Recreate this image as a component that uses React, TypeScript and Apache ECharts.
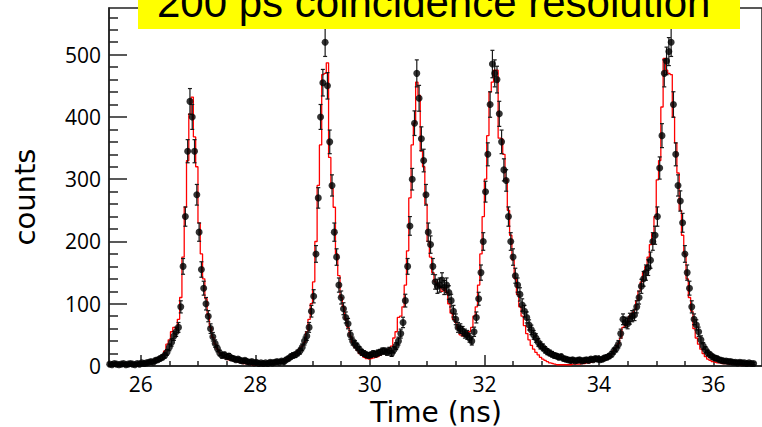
import React, { useEffect, useRef } from "react";
import * as echarts from "echarts";

// Histogram binning (bin centres start at BIN_START, spaced BIN_WIDTH ns)
const BIN_START = 25.46;
const BIN_WIDTH = 0.04;

// Measured counts per bin (black points)
const counts = [
  3, 2, 4, 3, 2, 3, 4, 2, 3, 4,
  3, 2, 4, 3, 5, 4, 5, 6, 7, 6,
  9, 10, 12, 14, 17, 22, 30, 38, 48, 55,
  62, 95, 160, 240, 345, 425, 400, 345, 275, 215,
  155, 125, 100, 80, 60, 47, 36, 28, 21, 17,
  18, 15, 16, 13, 12, 10, 11, 9, 8, 9,
  7, 6, 7, 5, 6, 4, 5, 4, 5, 4,
  6, 5, 6, 7, 6, 8, 7, 10, 12, 15,
  17, 18, 21, 24, 30, 40, 48, 62, 88, 112,
  180, 270, 400, 455, 520, 450, 360, 290, 215, 175,
  130, 110, 92, 78, 68, 50, 40, 35, 31, 26,
  22, 20, 18, 17, 18, 20, 19, 21, 22, 24,
  24, 22, 25, 20, 26, 32, 40, 52, 70, 105,
  160, 225, 300, 390, 470, 430, 365, 330, 275, 215,
  195, 160, 135, 128, 130, 138, 126, 130, 118, 105,
  88, 75, 62, 60, 56, 52, 50, 45, 40, 55,
  78, 108, 150, 200, 280, 340, 420, 485, 470, 460,
  405, 360, 315, 298, 240, 200, 175, 145, 130, 115,
  98, 88, 78, 66, 58, 50, 45, 38, 33, 30,
  26, 23, 21, 19, 17, 16, 14, 15, 12, 11,
  10, 9, 10, 8, 9, 10, 8, 9, 10, 9,
  11, 10, 12, 11, 10, 11, 13, 14, 16, 19,
  24, 28, 35, 52, 75, 70, 68, 76, 80, 82,
  95, 110, 128, 140, 150, 158, 170, 200, 210, 240,
  318, 370, 470, 490, 505, 520, 420, 340, 290, 265,
  230, 180, 150, 125, 95, 75, 66, 55, 42, 32,
  26, 21, 18, 15, 13, 12, 10, 9, 8, 8,
  7, 7, 6, 6, 5, 6, 5, 5, 4, 5,
  4, 4,
];

// Model histogram per bin (red line)
const model = [
  3, 3, 3, 3, 3, 3, 3, 3, 3, 3,
  3, 3, 4, 4, 4, 5, 5, 6, 7, 8,
  10, 12, 15, 18, 24, 35, 42, 55, 62, 60,
  75, 110, 175, 255, 330, 405, 432, 368, 320, 230,
  180, 140, 108, 82, 62, 46, 35, 27, 21, 17,
  14, 12, 10, 9, 8, 7, 6, 5, 4, 4,
  3, 3, 2, 2, 2, 2, 2, 2, 3, 3,
  3, 4, 4, 5, 5, 6, 8, 10, 12, 14,
  18, 20, 24, 28, 32, 38, 55, 75, 100, 135,
  200, 290, 355, 468, 470, 487, 335, 285, 255, 180,
  145, 110, 95, 75, 62, 48, 38, 30, 25, 20,
  17, 14, 12, 11, 12, 13, 14, 15, 17, 20,
  22, 25, 28, 32, 45, 55, 78, 80, 95, 130,
  185, 270, 355, 390, 456, 435, 345, 320, 260, 200,
  175, 150, 135, 130, 128, 120, 125, 118, 100, 85,
  75, 70, 60, 50, 48, 52, 48, 55, 62, 80,
  95, 130, 180, 240, 300, 370, 440, 456, 475, 475,
  366, 365, 340, 300, 250, 210, 170, 140, 115, 95,
  80, 65, 52, 42, 33, 27, 22, 18, 14, 11,
  9, 7, 5, 4, 3, 2, 2, 2, 2, 2,
  2, 2, 3, 3, 3, 3, 4, 4, 5, 5,
  6, 7, 8, 9, 10, 11, 12, 14, 16, 20,
  25, 30, 36, 45, 62, 65, 70, 80, 85, 90,
  105, 120, 135, 150, 160, 175, 195, 213, 240, 299,
  330, 416, 494, 475, 470, 468, 400, 358, 310, 250,
  210, 180, 140, 110, 88, 60, 45, 35, 27, 20,
  15, 11, 9, 7, 6, 5, 5, 4, 4, 4,
  3, 3, 3, 3, 3, 2, 2, 2, 2, 2,
  2, 2,
];

// Axis ticks
const xMajorTicks = [26, 28, 30, 32, 34, 36];
const xMinorTicks = [25.5, 26.5, 27, 27.5, 28.5, 29, 29.5, 30.5, 31, 31.5, 32.5, 33, 33.5, 34.5, 35, 35.5, 36.5];
const yMajorTicks = [0, 100, 200, 300, 400, 500];
const yMinorTicks = [20, 40, 60, 80, 120, 140, 160, 180, 220, 240, 260, 280, 320, 340, 360, 380, 420, 440, 460, 480, 520, 540, 560];

const X_MIN = 25.447;
const X_MAX = 36.846;
const Y_MIN = 0;
const Y_MAX = 575;

const TITLE = "200 ps coincidence resolution";
const X_TITLE = "Time (ns)";
const Y_TITLE = "counts";

const AXIS_COLOR = "#222";
const LABEL_FONT = "'Open Sans', sans-serif";

export default function App() {
  const ref = useRef<HTMLDivElement>(null);

  useEffect(() => {
    if (!ref.current) return;
    const chart = echarts.init(ref.current, undefined, { renderer: "svg" });

    const bins = counts.map((_, i) => +(BIN_START + i * BIN_WIDTH).toFixed(3));
    const points = counts.map((v, i) => [bins[i], v]);
    const errors = counts.map((v, i) => [bins[i], v - Math.sqrt(v), v + Math.sqrt(v)]);
    const modelLine = model.map((v, i) => [bins[i], v]);

    const tickStyle = { color: AXIS_COLOR, width: 1.5 };

    chart.setOption({
      animation: false,
      grid: {
        left: 109,
        top: 8,
        width: 660,
        height: 358,
        show: true,
        borderColor: AXIS_COLOR,
        borderWidth: 1.5,
        backgroundColor: "transparent",
      },
      xAxis: [
        {
          type: "value",
          min: X_MIN,
          max: X_MAX,
          position: "bottom",
          axisLine: { show: true, lineStyle: tickStyle },
          axisTick: { show: true, inside: true, length: 11, customValues: xMajorTicks, lineStyle: tickStyle },
          axisLabel: {
            customValues: xMajorTicks,
            fontSize: 21,
            lineHeight: 18,
            color: "#000",
            fontFamily: LABEL_FONT,
            margin: 9,
          },
          splitLine: { show: false },
        },
        {
          type: "value",
          min: X_MIN,
          max: X_MAX,
          position: "bottom",
          axisLine: { show: false },
          axisTick: { show: true, inside: true, length: 5, customValues: xMinorTicks, lineStyle: tickStyle },
          axisLabel: { show: false },
          splitLine: { show: false },
        },
      ],
      yAxis: [
        {
          type: "value",
          min: Y_MIN,
          max: Y_MAX,
          position: "left",
          axisLine: { show: true, lineStyle: tickStyle },
          axisTick: { show: true, inside: true, length: 18, customValues: yMajorTicks, lineStyle: tickStyle },
          axisLabel: { customValues: yMajorTicks, fontSize: 21, color: "#000", fontFamily: LABEL_FONT, margin: 8 },
          splitLine: { show: false },
        },
        {
          type: "value",
          min: Y_MIN,
          max: Y_MAX,
          position: "left",
          axisLine: { show: false },
          axisTick: { show: true, inside: true, length: 9, customValues: yMinorTicks, lineStyle: tickStyle },
          axisLabel: { show: false },
          splitLine: { show: false },
        },
      ],
      series: [
        {
          type: "line",
          data: modelLine,
          step: "middle",
          showSymbol: false,
          symbol: "none",
          lineStyle: { color: "#ff0000", width: 1.3 },
          z: 2,
          silent: true,
        },
        {
          type: "custom",
          data: errors,
          encode: { x: 0, y: [1, 2] },
          z: 3,
          silent: true,
          renderItem: (params: any, api: any) => {
            const x = api.value(0);
            const p1 = api.coord([x, api.value(1)]);
            const p2 = api.coord([x, api.value(2)]);
            const cap = 2;
            const st = { stroke: "#1a1a1a", lineWidth: 1.2 };
            return {
              type: "group",
              children: [
                { type: "line", shape: { x1: p1[0], y1: p1[1], x2: p2[0], y2: p2[1] }, style: st },
                { type: "line", shape: { x1: p1[0] - cap, y1: p1[1], x2: p1[0] + cap, y2: p1[1] }, style: st },
                { type: "line", shape: { x1: p2[0] - cap, y1: p2[1], x2: p2[0] + cap, y2: p2[1] }, style: st },
              ],
            };
          },
        },
        {
          type: "scatter",
          data: points,
          symbol: "circle",
          symbolSize: 7,
          itemStyle: { color: "#000" },
          z: 4,
          silent: true,
        },
      ],
      graphic: [
        {
          type: "rect",
          shape: { x: 138, y: -10, width: 602, height: 39 },
          style: { fill: "#ffff00" },
          z: 100,
        },
        {
          type: "text",
          x: 157,
          y: 2.5,
          z: 101,
          style: {
            text: TITLE,
            fill: "#000",
            fontSize: 42,
            fontFamily: "'Liberation Sans', Arial, sans-serif",
            align: "left",
            verticalAlign: "middle",
          },
        },
        {
          type: "text",
          x: 436,
          y: 412,
          z: 101,
          style: {
            text: X_TITLE,
            fill: "#000",
            fontSize: 28,
            lineHeight: 24,
            fontFamily: "'DejaVu Sans', sans-serif",
            align: "center",
            verticalAlign: "middle",
          },
        },
        {
          type: "text",
          x: 25,
          y: 197,
          rotation: Math.PI / 2,
          z: 101,
          style: {
            text: Y_TITLE,
            fill: "#000",
            fontSize: 29,
            fontFamily: "'DejaVu Sans', sans-serif",
            align: "center",
            verticalAlign: "middle",
          },
        },
      ],
    });

    return () => {
      chart.dispose();
    };
  }, []);

  return (
    <div
      ref={ref}
      style={{ position: "fixed", left: 0, top: 0, width: 762, height: 427, background: "#fff" }}
    />
  );
}
